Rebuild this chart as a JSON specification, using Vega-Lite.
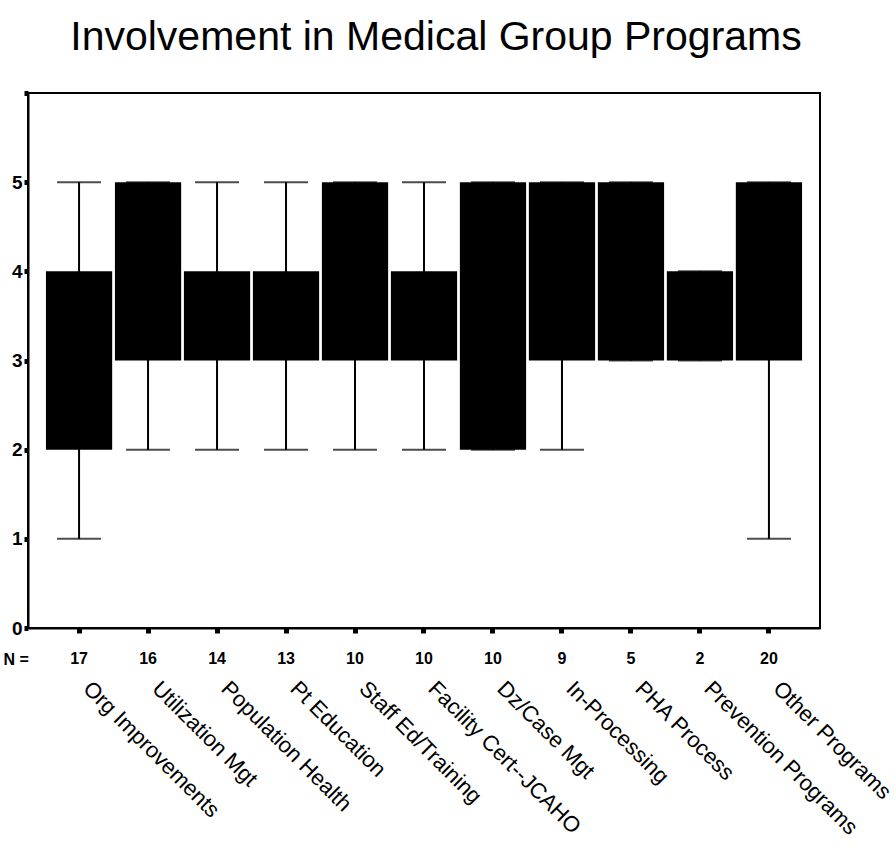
{
  "$schema": "https://vega.github.io/schema/vega-lite/v6.json",
  "autosize": "none",
  "width": 792,
  "height": 535,
  "padding": {"left": 28, "top": 93, "right": 76, "bottom": 225},
  "background": "white",
  "title": {
    "text": "Involvement in Medical Group Programs",
    "font": "Liberation Sans",
    "fontSize": 41,
    "fontWeight": "normal",
    "color": "black",
    "anchor": "middle",
    "dx": 12,
    "offset": 32
  },
  "data": {
    "values": [
      {"cat": "Org Improvements", "n": "17", "low": 1, "q1": 2, "q3": 4, "high": 5},
      {"cat": "Utilization Mgt", "n": "16", "low": 2, "q1": 3, "q3": 5, "high": 5},
      {"cat": "Population Health", "n": "14", "low": 2, "q1": 3, "q3": 4, "high": 5},
      {"cat": "Pt Education", "n": "13", "low": 2, "q1": 3, "q3": 4, "high": 5},
      {"cat": "Staff Ed/Training", "n": "10", "low": 2, "q1": 3, "q3": 5, "high": 5},
      {"cat": "Facility Cert--JCAHO", "n": "10", "low": 2, "q1": 3, "q3": 4, "high": 5},
      {"cat": "Dz/Case Mgt", "n": "10", "low": 2, "q1": 2, "q3": 5, "high": 5},
      {"cat": "In-Processing", "n": "9", "low": 2, "q1": 3, "q3": 5, "high": 5},
      {"cat": "PHA Process", "n": "5", "low": 3, "q1": 3, "q3": 5, "high": 5},
      {"cat": "Prevention Programs", "n": "2", "low": 3, "q1": 3, "q3": 4, "high": 4},
      {"cat": "Other Programs", "n": "20", "low": 1, "q1": 3, "q3": 5, "high": 5}
    ]
  },
  "config": {
    "view": {"stroke": "black", "strokeWidth": 2},
    "axis": {"grid": false, "domainColor": "black", "domainWidth": 2, "tickColor": "black", "labelColor": "black", "titleColor": "black"}
  },
  "encoding": {
    "x": {
      "field": "cat",
      "type": "nominal",
      "sort": null,
      "scale": {"paddingInner": 0.04, "paddingOuter": 0.26},
      "axis": {
        "title": "N =",
        "titleFont": "Liberation Sans",
        "titleFontWeight": "bold",
        "titleFontSize": 16,
        "titleAngle": 0,
        "titleAlign": "left",
        "titleBaseline": "middle",
        "titleX": -25,
        "titleY": 31,
        "labelExpr": "datum.value == 'Org Improvements' ? '17' : datum.value == 'Utilization Mgt' ? '16' : datum.value == 'Population Health' ? '14' : datum.value == 'Pt Education' ? '13' : datum.value == 'Staff Ed/Training' ? '10' : datum.value == 'Facility Cert--JCAHO' ? '10' : datum.value == 'Dz/Case Mgt' ? '10' : datum.value == 'In-Processing' ? '9' : datum.value == 'PHA Process' ? '5' : datum.value == 'Prevention Programs' ? '2' : '20'",
        "labelAngle": 0,
        "labelFont": "Liberation Sans",
        "labelFontWeight": "bold",
        "labelFontSize": 16,
        "labelPadding": 17,
        "tickSize": 5,
        "tickWidth": 5
      }
    }
  },
  "layer": [
    {
      "mark": {"type": "rule", "color": "black", "strokeWidth": 2},
      "encoding": {
        "y": {
          "field": "low",
          "type": "quantitative",
          "scale": {"domain": [0, 6], "nice": false},
          "axis": {
            "title": null,
            "values": [0, 1, 2, 3, 4, 5, 6],
            "format": "d",
            "labelExpr": "datum.value == 6 ? '' : datum.label",
            "labelFont": "Liberation Sans",
            "labelFontWeight": "bold",
            "labelFontSize": 19,
            "labelPadding": 2,
            "tickSize": 4,
            "tickWidth": 5
          }
        },
        "y2": {"field": "high"}
      }
    },
    {
      "mark": {"type": "tick", "color": "black", "thickness": 2, "size": 44},
      "encoding": {"y": {"field": "low", "type": "quantitative"}}
    },
    {
      "mark": {"type": "tick", "color": "black", "thickness": 2, "size": 44},
      "encoding": {"y": {"field": "high", "type": "quantitative"}}
    },
    {
      "mark": {"type": "bar", "color": "black", "width": {"band": 1}},
      "encoding": {
        "y": {"field": "q1", "type": "quantitative"},
        "y2": {"field": "q3"}
      }
    },
    {
      "mark": {"type": "text", "angle": 45, "align": "left", "baseline": "top", "font": "Liberation Sans", "fontSize": 22, "color": "black", "xOffset": 15},
      "encoding": {
        "y": {"datum": -0.56, "type": "quantitative"},
        "text": {"field": "cat"}
      }
    }
  ]
}
